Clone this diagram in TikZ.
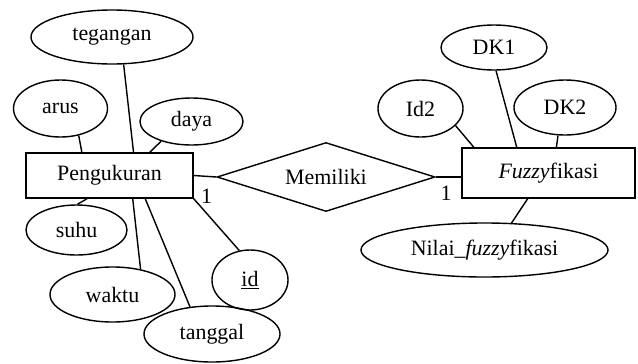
\documentclass[tikz,border=0pt]{standalone}
\usepackage{fontspec}
\setmainfont{Liberation Serif}
\usetikzlibrary{shapes.geometric}

\begin{document}
\begin{tikzpicture}[x=0.025cm,y=-0.025cm,line width=1pt,
    font=\fontsize{15.6}{18}\selectfont,
    attr/.style={draw,ellipse,inner sep=0pt},
    entity/.style={draw,rectangle,inner sep=0pt}]
                \useasboundingbox(0,0)rectangle(638,363);
                \node[entity,minimum width=4.175cm,minimum height=1.125cm](peng)at(109.5,175.5){Pengukuran};
                \node[entity,minimum width=4.325cm,minimum height=1.25cm](fuz)at(548.5,173){\textit{Fuzzy}fikasi};
                \node[draw,diamond,aspect=3,inner sep=0pt,minimum width=5.45cm,minimum height=1.725cm](mem)at(326,177){Memiliki};
                \node[attr,minimum width=4.05cm,minimum height=1.35cm](teg)at(112,37){tegangan};
                \node[attr,minimum width=2.35cm,minimum height=1.425cm](arus)at(60.5,108.5){arus};
                \node[attr,minimum width=2.575cm,minimum height=1.175cm](daya)at(191.5,121.5){daya};
                \node[attr,minimum width=2.525cm,minimum height=1.25cm](suhu)at(76.5,230){suhu};
                \node[attr,minimum width=3.125cm,minimum height=1.375cm](waktu)at(112.5,294.5){waktu};
                \node[attr,minimum width=3.4cm,minimum height=1.4cm](tgl)at(212,334){tanggal};
                \node[attr,minimum width=1.9cm,minimum height=1.5cm](id)at(250,280){\underline{id}};
                \node[attr,minimum width=2.65cm,minimum height=1.125cm](dka)at(494,47.5){DK1};
                \node[attr,minimum width=2.125cm,minimum height=1.425cm](idd)at(420.5,108.5){Id2};
                \node[attr,minimum width=2.55cm,minimum height=1.375cm](dkb)at(565,107.5){DK2};
                \node[attr,minimum width=6.175cm,minimum height=1.35cm](nilai)at(484.5,250){Nilai\_\textit{fuzzy}fikasi};
                \node(onea)at(206.5,196){1};
                \node(oneb)at(446,193){1};
                \draw(teg.-67)--(peng.44);
                \draw(arus.-56)--(peng.140);
                \draw(daya.-147)--(peng.30);
                \draw(suhu.88)--(peng.-134);
                \draw(waktu.42)--(peng.-45);
                \draw(tgl.129)--(peng.-33);
                \draw(id.110)--(peng.south east);
                \draw(peng.east)--(mem.west);
                \draw(mem.east)--(mem.east-|fuz.west);
                \draw(idd.-26)--(fuz.161);
                \draw(dka.-85)--(fuz.141);
                \draw(dkb.-104)--(fuz.73);
                \draw(nilai.45)--(fuz.-129);
            \end{tikzpicture}
\end{document}
